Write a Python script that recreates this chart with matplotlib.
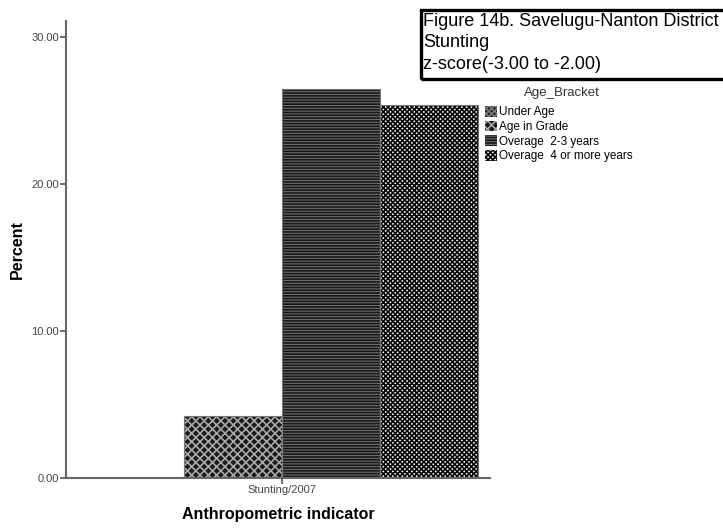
import matplotlib.pyplot as plt
from matplotlib.patches import Rectangle, Patch

plt.rcParams['font.family'] = ['Liberation Sans', 'DejaVu Sans']
plt.rcParams['hatch.linewidth'] = 1.2

# data
categories = ['Under Age', 'Age in Grade', 'Overage  2-3 years', 'Overage  4 or more years']
values = [0.0, 4.22, 26.5, 25.4]
group_label = 'Stunting/2007'
yticks = [0, 10, 20, 30]

faces = ['#1e1e1e', '#1a1a1a', '#6a6a6a', '#f4f4f4']
hatch_cols = ['#777777', '#a8a8a8', '#1a1a1a', '#0a0a0a']
hatches = ['xxxxxx', 'xxxx', '------', 'xxxxxxx']

fig = plt.figure(figsize=(7.23, 5.32), dpi=100)
ax = fig.add_axes([0.0913, 0.1015, 0.587, 0.859])

pos = list(range(len(categories)))
for i in pos:
    ax.bar(pos[i], values[i], width=1.0, color=faces[i], edgecolor=hatch_cols[i],
           hatch=hatches[i], linewidth=0)
ax.bar(pos, values, width=1.0, fill=False, edgecolor='#777777', linewidth=0.8)

ax.set_xlim(-0.704, 3.63)
ax.set_ylim(0, 31.1)
ax.set_yticks(yticks)
ax.set_yticklabels([f'{t:.2f}' for t in yticks], fontsize=8, color='#444444')
ax.set_xticks([1.5])
ax.set_xticklabels([group_label], fontsize=8, color='#444444')
ax.tick_params(length=4, width=1.2, color='#555555', pad=1)

for s in ['top', 'right']:
    ax.spines[s].set_visible(False)
for s in ['left', 'bottom']:
    ax.spines[s].set_color('#666666')
    ax.spines[s].set_linewidth(1.5)

ax.set_ylabel('Percent', fontsize=11.5, fontweight='bold', labelpad=5)
ax.set_xlabel('Anthropometric indicator', fontsize=11.5, fontweight='bold', labelpad=9)

# title box
fig.patches.append(Rectangle((421 / 723, 1 - 79 / 532), 0.45, 69 / 532,
                             transform=fig.transFigure, fill=False,
                             edgecolor='black', linewidth=2.4))
fig.text(423 / 723, 1 - 13 / 532,
         'Figure 14b. Savelugu-Nanton District\nStunting\nz-score(-3.00 to -2.00)',
         fontsize=13, va='top', ha='left', linespacing=1.33)

# legend
fig.text(562 / 723, 1 - 93 / 532, 'Age_Bracket', fontsize=9.5, ha='center', va='center',
         color='#333333')
handles = [Patch(facecolor=faces[i], edgecolor=hatch_cols[i], hatch=hatches[i], linewidth=0)
           for i in pos]
leg = fig.legend(handles, categories, loc='upper left',
                 bbox_to_anchor=(485 / 723, 1 - 106 / 532), frameon=False,
                 fontsize=8.5, handlelength=1.0, handleheight=1.0, handletextpad=0.2,
                 labelspacing=0.2, borderaxespad=0, borderpad=0)

fig.savefig('out.png', dpi=100)
